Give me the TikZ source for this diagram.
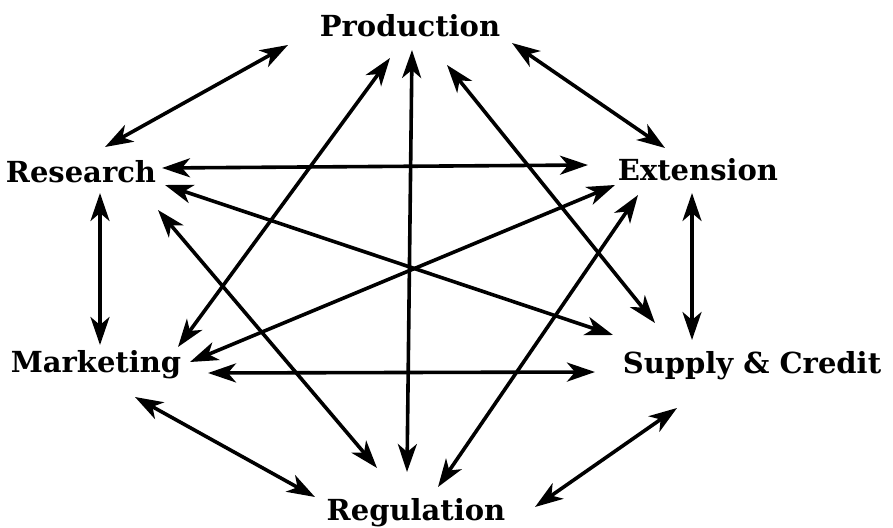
\documentclass[tikz,border=0pt]{standalone}
\usepackage{fontspec}
\setmainfont{DejaVu Serif}
\usetikzlibrary{arrows.meta}

\begin{document}
\begin{tikzpicture}[
    x=1pt, y=-1pt,
    sector/.style={font=\bfseries\fontsize{29}{31}\selectfont, inner sep=0pt, anchor=base},
    link/.style={{Stealth[length=28pt,width=19pt,inset=8pt]}-{Stealth[length=28pt,width=19pt,inset=8pt]}, line width=3.6pt}
  ]
    \useasboundingbox (0,0) rectangle (893,527);

    \node[sector] (prod) at (410,37) {Production};
    \node[sector] (res)  at (81,182) {Research};
    \node[sector] (ext)  at (698,180) {Extension};
    \node[sector] (mkt)  at (96,372) {Marketing};
    \node[sector] (sup)  at (752,373) {Supply \& Credit};
    \node[sector] (reg)  at (416,520) {Regulation};

    % outer ring
    \draw[link] ([shift={(-122,8)}]prod.base) -- ([shift={(24,-35)}]res.base);
    \draw[link] ([shift={(102,6)}]prod.base) -- ([shift={(-33,-32)}]ext.base);
    \draw[link] ([shift={(19,11)}]res.base) -- ([shift={(4,-27)}]mkt.base);
    \draw[link] ([shift={(-6,13)}]ext.base) -- ([shift={(-60,-33)}]sup.base);
    \draw[link] ([shift={(39,25)}]mkt.base) -- ([shift={(-101,-23)}]reg.base);
    \draw[link] ([shift={(-75,35)}]sup.base) -- ([shift={(119,-13)}]reg.base);

    % cross links
    \draw[link] ([shift={(-20,21)}]prod.base) -- ([shift={(82,-25)}]mkt.base);
    \draw[link] ([shift={(2,13)}]prod.base) -- ([shift={(-9,-48)}]reg.base);
    \draw[link] ([shift={(37,28)}]prod.base) -- ([shift={(-97,-50)}]sup.base);
    \draw[link] ([shift={(81,-14)}]res.base) -- ([shift={(-110,-15)}]ext.base);
    \draw[link] ([shift={(84,3)}]res.base) -- ([shift={(-139,-38)}]sup.base);
    \draw[link] ([shift={(77,28)}]res.base) -- ([shift={(-39,-52)}]reg.base);
    \draw[link] ([shift={(-83,5)}]ext.base) -- ([shift={(94,-10)}]mkt.base);
    \draw[link] ([shift={(-60,15)}]ext.base) -- ([shift={(22,-33)}]reg.base);
    \draw[link] ([shift={(112,1)}]mkt.base) -- ([shift={(-157,-1)}]sup.base);
  \end{tikzpicture}
\end{document}
